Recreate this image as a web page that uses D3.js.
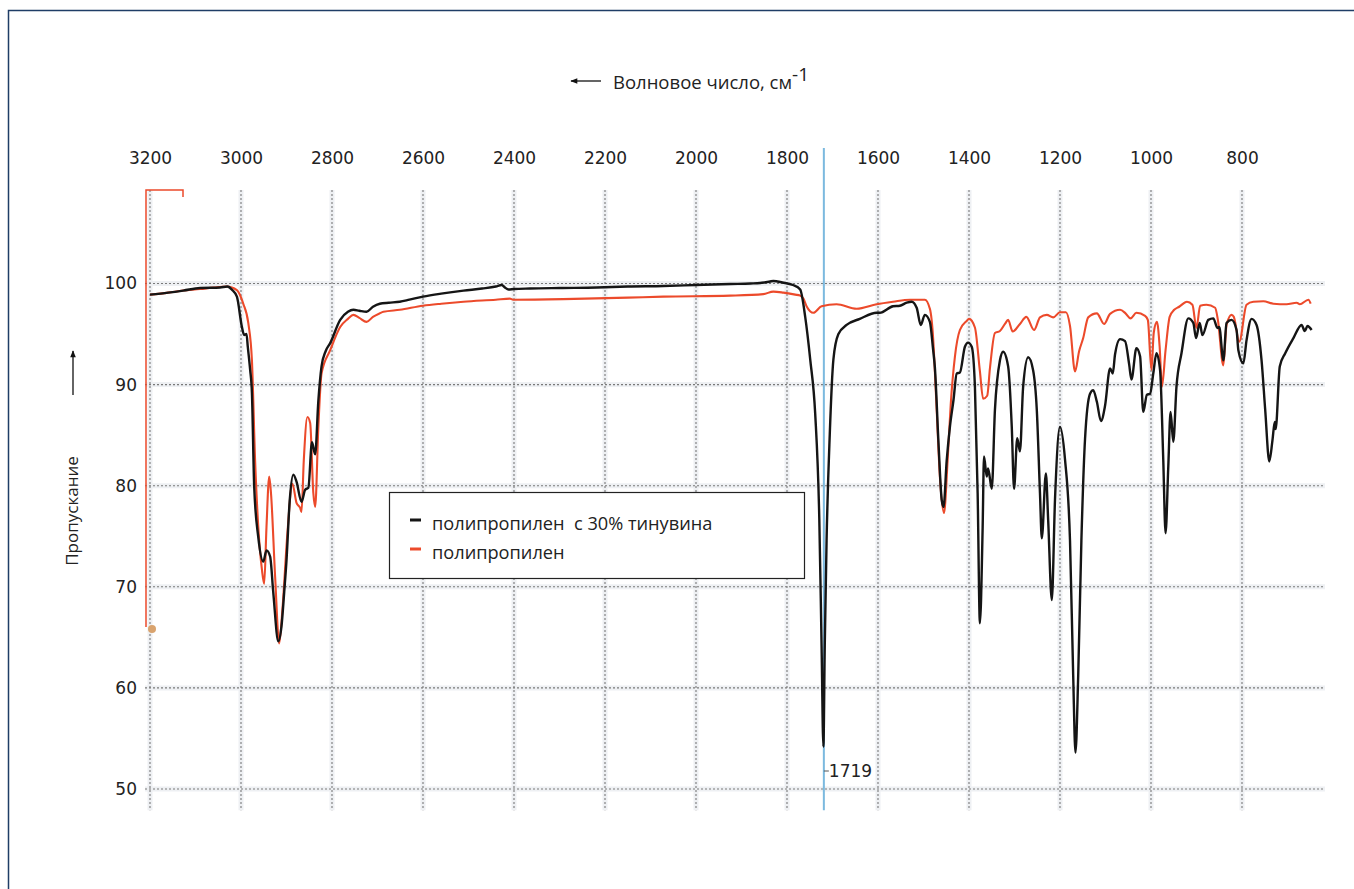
<!DOCTYPE html>
<html>
<head>
<meta charset="utf-8">
<script src="https://cdn.jsdelivr.net/npm/d3@7"></script>
<style>
body { margin: 0; background: #fff; }
svg { display: block; }
.x_axis text, .y_axis text { font-family: "DejaVu Sans"; font-size: 17px; fill: #222; }
.lbl { font-family: "Open Sans"; fill: #222; }
</style>
</head>
<body>
<div id="chart_container"></div>
<script>
// полипропилен с 30% тинувина (black)
var wn_tin = [3200,3160,3127,3090,3046,3030,3020,3009,2998,2993,2988,2985,2980,2976,2971,2962,2951,2944,2936,2929,2918,2911,2905,2900,2893,2885,2878,2867,2859,2852,2844,2837,2830,2823,2814,2804,2782,2765,2753,2740,2724,2710,2695,2675,2651,2630,2600,2560,2511,2470,2440,2427,2420,2412,2400,2365,2300,2218,2150,2072,2000,1925,1880,1859,1837,1830,1810,1787,1771,1760,1749,1738,1729,1724,1720,1717,1713,1706,1698,1687,1669,1640,1603,1596,1567,1552,1537,1526,1515,1506,1497,1486,1479,1475,1467,1460,1456,1449,1442,1434,1427,1420,1409,1402,1394,1387,1381,1376,1370,1367,1361,1358,1350,1343,1332,1325,1314,1306,1301,1294,1288,1281,1270,1259,1251,1244,1240,1231,1226,1218,1211,1200,1189,1178,1171,1166,1160,1153,1145,1134,1127,1119,1110,1101,1090,1084,1079,1068,1057,1048,1043,1032,1024,1017,1009,1002,995,988,980,973,968,962,957,951,944,933,918,907,901,893,887,874,863,854,850,841,834,823,812,808,797,790,779,768,757,749,740,733,728,726,717,705,687,669,662,656,647];
var tr_tin = [98.9,99.1,99.3,99.55,99.6,99.7,99.4,98.7,95.7,94.9,95.0,93.7,91.5,89.2,79.9,74.9,72.5,73.6,73.0,69.4,64.6,66.1,69.5,72.6,78.5,81.1,80.4,78.4,79.6,79.8,84.3,83.1,88.4,91.8,93.3,94.1,96.4,97.2,97.4,97.3,97.2,97.7,98.0,98.1,98.2,98.4,98.7,99.0,99.3,99.5,99.7,99.85,99.6,99.4,99.45,99.5,99.55,99.6,99.7,99.75,99.85,99.95,100.0,100.05,100.2,100.25,100.1,99.85,99.4,96.7,92.5,87.1,76.7,64.2,54.2,64.2,74.6,85.1,92.5,95.0,95.9,96.5,97.1,97.1,97.75,97.8,98.1,98.2,97.6,95.9,96.9,96.2,93.5,91.7,84.2,78.6,77.9,82.5,85.8,88.5,91.1,91.2,93.75,94.15,93.75,89.8,79.25,66.4,75.9,82.9,80.9,81.7,79.7,87.5,92.4,93.25,91.8,85.8,79.7,84.7,83.4,89.8,92.7,91.4,87.5,79.25,74.8,81.2,76.6,68.7,78.6,85.8,82.6,74.55,61.2,53.6,61.2,74.55,84.6,89.1,89.45,88.3,86.4,87.9,91.6,91.1,93.0,94.5,94.3,92.0,90.5,93.6,92.8,87.3,89.0,89.1,91.1,93.1,91.4,82.5,75.3,81.9,87.3,84.35,89.8,93.1,96.55,96.1,94.6,96.1,94.9,96.4,96.55,95.6,95.7,92.4,96.1,96.4,95.4,93.4,92.1,94.4,96.5,95.9,92.4,87.5,82.4,84.5,86.3,85.6,91.8,93.1,94.6,95.9,95.3,95.8,95.4];

// полипропилен (red)
var wn_pp = [3200,3160,3127,3090,3060,3031,3009,2995,2984,2976,2969,2962,2954,2949,2944,2938,2934,2925,2916,2909,2898,2887,2878,2870,2867,2862,2854,2848,2841,2837,2830,2823,2804,2782,2765,2753,2740,2724,2710,2695,2687,2651,2600,2560,2511,2440,2409,2402,2292,2150,2072,1925,1852,1830,1808,1782,1771,1764,1757,1742,1724,1691,1647,1603,1567,1530,1497,1486,1479,1475,1471,1464,1455,1447,1440,1431,1420,1405,1400,1387,1376,1369,1360,1354,1343,1332,1321,1314,1304,1288,1274,1257,1244,1229,1215,1200,1187,1178,1167,1158,1149,1138,1119,1103,1090,1068,1056,1045,1032,1013,1007,999,994,987,981,976,968,959,949,938,921,909,900,892,878,859,853,841,834,823,818,806,790,775,753,731,702,680,673,654,649];
var tr_pp = [98.9,99.1,99.3,99.45,99.6,99.7,99.35,98.0,96.1,92.4,82.5,75.9,71.7,70.3,75.9,80.9,79.2,71.0,64.4,67.7,75.3,80.2,78.3,77.8,77.4,82.5,86.8,86.2,79.25,77.9,85.8,91.1,93.4,95.7,96.5,96.9,96.6,96.2,96.7,97.05,97.2,97.4,97.8,98.0,98.2,98.4,98.5,98.4,98.45,98.6,98.7,98.8,98.95,99.2,99.1,98.9,98.8,98.5,97.75,97.1,97.75,97.95,97.5,97.95,98.2,98.4,98.4,97.5,94.7,91.3,87.5,80.9,77.3,82.5,88.15,92.75,95.4,96.3,96.5,95.65,91.3,88.6,88.9,91.6,95.1,95.3,96.0,96.4,95.25,96.0,96.7,95.4,96.65,96.9,96.65,97.15,97.15,95.8,91.3,93.3,94.6,96.65,97.05,96.0,97.0,97.4,97.05,96.55,97.1,96.8,96.4,91.45,95.1,96.2,93.75,89.8,93.4,96.7,97.4,97.7,98.2,97.9,95.6,97.8,97.9,97.6,96.4,91.9,95.9,96.9,96.7,94.25,97.9,98.2,98.25,98.0,97.95,98.1,97.95,98.4,98.0];

var x_ticks = [3200,3000,2800,2600,2400,2200,2000,1800,1600,1400,1200,1000,800];
var y_ticks = [100,90,80,70,60,50];
var series_names = ['полипропилен  с 30% тинувина', 'полипропилен'];
var series_colors = ['#151515', '#ec4a2b'];
var marker_wn = 1719;

var W = 1354, H = 889;
var svg = d3.select('#chart_container').append('svg').attr('width', W).attr('height', H);

// page frame
svg.append('path').attr('d', 'M8.5,' + H + 'V10.5H' + W)
    .attr('fill', 'none').attr('stroke', '#1f3d66').attr('stroke-width', 1.5);

var x = d3.scaleLinear().domain([3200, 800]).range([150, 1242]);
var y = d3.scaleLinear().domain([100, 50]).range([283.5, 789]);
var grid_top = y(109.25), grid_bottom = y(47.9), grid_left = 145, grid_right = 1325;

// grid
var grid = svg.append('g').attr('class', 'grid');
x_ticks.forEach(function (t) {
    grid.append('line').attr('x1', x(t)).attr('x2', x(t)).attr('y1', grid_top).attr('y2', grid_bottom)
        .attr('stroke', '#eef0f3').attr('stroke-width', 5);
});
y_ticks.forEach(function (t) {
    grid.append('line').attr('y1', y(t)).attr('y2', y(t)).attr('x1', grid_left).attr('x2', grid_right)
        .attr('stroke', '#eef0f3').attr('stroke-width', 5);
});
x_ticks.forEach(function (t) {
    grid.append('line').attr('x1', x(t)).attr('x2', x(t)).attr('y1', grid_top).attr('y2', grid_bottom)
        .attr('stroke', '#7a7a7a').attr('stroke-width', 1.1).attr('stroke-dasharray', '2,2');
});
y_ticks.forEach(function (t) {
    grid.append('line').attr('y1', y(t)).attr('y2', y(t)).attr('x1', grid_left).attr('x2', grid_right)
        .attr('stroke', '#7a7a7a').attr('stroke-width', 1.1).attr('stroke-dasharray', '2,2');
});

// axes (labels only)
var xa = svg.append('g').attr('class', 'x_axis').attr('transform', 'translate(0,164)')
    .call(d3.axisTop(x).tickValues(x_ticks).tickSize(0).tickPadding(0).tickFormat(d3.format('d')));
xa.select('.domain').remove();
var ya = svg.append('g').attr('class', 'y_axis').attr('transform', 'translate(139,0)')
    .call(d3.axisLeft(y).tickValues(y_ticks).tickSize(0).tickPadding(2));
ya.select('.domain').remove();

// red bracket in the corner
svg.append('path').attr('d', 'M146,627V' + grid_top + 'H183V197')
    .attr('fill', 'none').attr('stroke', '#ec4a2b').attr('stroke-width', 1.5);
svg.append('circle').attr('cx', 152).attr('cy', 629).attr('r', 4).attr('fill', '#d9a36e');

// marker line 1719
var mx = x(marker_wn);
svg.append('line').attr('x1', mx).attr('x2', mx).attr('y1', 148).attr('y2', grid_bottom)
    .attr('stroke', '#7bb9df').attr('stroke-width', 2);

// spectra
var line = d3.line().x(function (d) { return x(d[0]); }).y(function (d) { return y(d[1]); })
    .curve(d3.curveMonotoneX);
svg.append('path').datum(d3.zip(wn_pp, tr_pp)).attr('d', line)
    .attr('fill', 'none').attr('stroke', series_colors[1]).attr('stroke-width', 2.1).attr('stroke-linejoin', 'round');
svg.append('path').datum(d3.zip(wn_tin, tr_tin)).attr('d', line)
    .attr('fill', 'none').attr('stroke', series_colors[0]).attr('stroke-width', 2.4).attr('stroke-linejoin', 'round');

// marker label
svg.append('line').attr('x1', mx).attr('x2', mx + 5).attr('y1', 771).attr('y2', 771)
    .attr('stroke', '#555').attr('stroke-width', 1);
svg.append('text').text(marker_wn).attr('x', mx + 5).attr('y', 777)
    .attr('font-family', 'DejaVu Sans').attr('font-size', 17).attr('fill', '#222');

// title
svg.append('defs').append('marker').attr('id', 'arr').attr('viewBox', '0 0 10 10')
    .attr('refX', 9).attr('refY', 5).attr('markerWidth', 9).attr('markerHeight', 7)
    .attr('orient', 'auto').attr('markerUnits', 'userSpaceOnUse')
    .append('path').attr('d', 'M0,1L10,5L0,9Z').attr('fill', '#111');
svg.append('line').attr('x1', 601).attr('x2', 571).attr('y1', 81).attr('y2', 81)
    .attr('stroke', '#111').attr('stroke-width', 1.3).attr('marker-end', 'url(#arr)');
var title = svg.append('text').attr('class', 'lbl').attr('x', 613).attr('y', 89).attr('font-size', 18.5);
title.append('tspan').text('Волновое число, см');
title.append('tspan').text('-1').attr('dy', -8).attr('font-size', 19);

// y label
svg.append('text').attr('class', 'lbl').text('Пропускание').attr('font-size', 17)
    .attr('text-anchor', 'middle').attr('transform', 'translate(78,511) rotate(-90)');
svg.append('line').attr('x1', 73).attr('x2', 73).attr('y1', 395).attr('y2', 351)
    .attr('stroke', '#111').attr('stroke-width', 1.3).attr('marker-end', 'url(#arr)');

// legend
var lg = svg.append('g').attr('class', 'legend');
lg.append('rect').attr('x', 389.5).attr('y', 492.5).attr('width', 415).attr('height', 86)
    .attr('fill', '#fff').attr('stroke', '#222').attr('stroke-width', 1.2);
series_names.forEach(function (name, i) {
    var cy = 520 + i * 29;
    lg.append('line').attr('x1', 410).attr('x2', 421).attr('y1', cy).attr('y2', cy)
        .attr('stroke', series_colors[i]).attr('stroke-width', 3);
    lg.append('text').attr('class', 'lbl').attr('x', 432).attr('y', cy + 10).attr('font-size', 18.2)
        .attr('xml:space', 'preserve').style('white-space', 'pre').text(name);
});
</script>
</body>
</html>
